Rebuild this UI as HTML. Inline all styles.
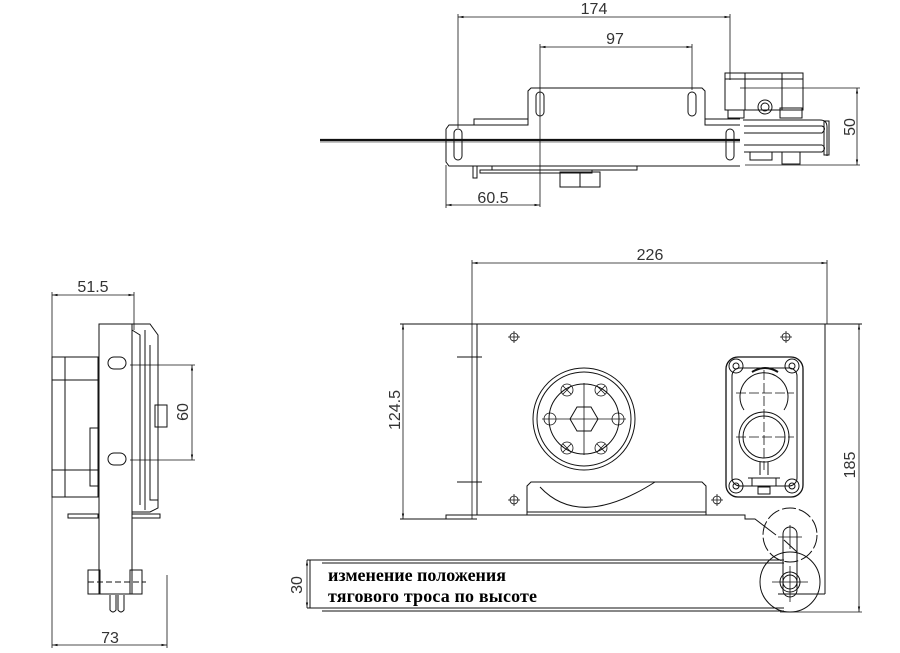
<!DOCTYPE html>
<html><head><meta charset="utf-8"><style>
html,body{margin:0;padding:0;background:#fff;width:900px;height:653px;overflow:hidden}
svg{display:block}
text{stroke:none}
.d{font-family:"Liberation Sans",sans-serif;font-size:16px;fill:#333}
.t{font-family:"Liberation Serif","DejaVu Serif",serif;font-size:18px;fill:#000}
</style></head><body>
<svg width="900" height="653" viewBox="0 0 900 653" fill="none" stroke="#111" stroke-width="1">
<defs>
<marker id="a" viewBox="0 0 10 10" refX="10" refY="5" markerWidth="7" markerHeight="7" orient="auto-start-reverse"><path d="M0,3 L10,5 L0,7" fill="#111" stroke="none"/></marker>
</defs>
<!-- TOP VIEW -->
<g stroke-width="0.8">
<line x1="458" y1="17" x2="730" y2="17" marker-start="url(#a)" marker-end="url(#a)"/>
<line x1="458" y1="14" x2="458" y2="128"/><line x1="730" y1="14" x2="730" y2="80"/>
<line x1="540" y1="47" x2="692" y2="47" marker-start="url(#a)" marker-end="url(#a)"/>
<line x1="540" y1="44" x2="540" y2="207"/><line x1="692" y1="44" x2="692" y2="90"/>
<line x1="446" y1="205" x2="540" y2="205" marker-start="url(#a)" marker-end="url(#a)"/>
<line x1="446" y1="165" x2="446" y2="208"/>
<line x1="857" y1="88" x2="857" y2="165" marker-start="url(#a)" marker-end="url(#a)"/>
<line x1="740" y1="88" x2="860" y2="88"/><line x1="745" y1="165" x2="860" y2="165"/>
</g>
<text class="d" x="594" y="14" text-anchor="middle">174</text>
<text class="d" x="615" y="44" text-anchor="middle">97</text>
<text class="d" x="493" y="203" text-anchor="middle">60.5</text>
<text class="d" transform="translate(855,127) rotate(-90)" text-anchor="middle">50</text>
<path d="M446,129 L449,125 L528,125 L528,91 L531,88 L702,88 L705,91 L705,125 L740,125 M446,129 L446,162 L449,166 L740,166"/>
<path d="M474,125 L474,119 L528,119 M705,119 L740,119"/>
<line x1="320" y1="140" x2="740" y2="140" stroke-width="2.2"/>
<line x1="320" y1="142" x2="740" y2="142" stroke-width="0.6"/>
<rect x="454" y="129" width="8" height="31" rx="4"/><rect x="726" y="129" width="8" height="31" rx="4"/>
<rect x="536" y="92" width="8" height="24" rx="4"/><rect x="688" y="92" width="8" height="24" rx="4"/>
<rect x="492" y="166" width="145" height="4"/><rect x="480" y="170" width="112" height="3"/>
<rect x="560" y="172" width="40" height="15"/><line x1="580" y1="172" x2="580" y2="187"/>
<rect x="473" y="166" width="4" height="12"/>
<rect x="725" y="73" width="78" height="37"/><line x1="725" y1="79" x2="803" y2="79"/>
<line x1="745" y1="73" x2="745" y2="110"/><line x1="782" y1="73" x2="782" y2="110"/>
<rect x="728" y="110" width="16" height="8"/><rect x="780" y="108" width="22" height="10"/>
<circle cx="765" cy="107" r="7"/><circle cx="765" cy="107" r="4"/>
<path d="M743,120 L820,120 Q827,120 827,127 L827,156"/>
<path d="M744,126 L822,126 Q827,128 822,133 L744,133 M744,145 L822,145 Q827,148 822,152 L744,152"/>
<rect x="824" y="121" width="5" height="34"/>
<rect x="750" y="152" width="22" height="8"/><rect x="782" y="152" width="18" height="12"/>
<!-- SIDE VIEW -->
<g stroke-width="0.8">
<line x1="52" y1="295" x2="134" y2="295" marker-start="url(#a)" marker-end="url(#a)"/>
<line x1="52" y1="292" x2="52" y2="648"/><line x1="134" y1="292" x2="134" y2="330"/>
<line x1="52" y1="645" x2="167" y2="645" marker-start="url(#a)" marker-end="url(#a)"/>
<line x1="167" y1="575" x2="167" y2="648"/>
<line x1="192" y1="365" x2="192" y2="460" marker-start="url(#a)" marker-end="url(#a)"/>
<line x1="130" y1="365" x2="195" y2="365"/><line x1="130" y1="460" x2="195" y2="460"/>
</g>
<text class="d" x="93" y="292" text-anchor="middle">51.5</text>
<text class="d" x="110" y="643" text-anchor="middle">73</text>
<text class="d" transform="translate(188,412) rotate(-90)" text-anchor="middle">60</text>
<rect x="99" y="324" width="33" height="270"/>
<path d="M132,324 L150,324 L158,335 L158,508 L150,512 L132,512"/>
<path d="M132,330 L140,335 L140,505 M145,330 L145,510 M150,345 L150,500 L158,500"/>
<rect x="155" y="405" width="12" height="22"/>
<rect x="52" y="357" width="46" height="140"/><line x1="65" y1="357" x2="65" y2="497"/>
<line x1="52" y1="380" x2="98" y2="380"/><line x1="52" y1="470" x2="98" y2="470"/>
<rect x="90" y="428" width="9" height="58"/>
<rect x="108" y="357" width="18" height="12" rx="6"/><rect x="108" y="453" width="18" height="12" rx="6"/>
<rect x="68" y="514" width="30" height="4"/><rect x="132" y="514" width="28" height="4"/>
<rect x="88" y="570" width="12" height="24"/><rect x="130" y="570" width="12" height="24"/>
<line x1="88" y1="582" x2="146" y2="582" stroke-dasharray="6,3"/>
<path d="M110,595 L110,610 Q113,614 116,610 L116,595 M118,595 L118,610 Q121,614 124,610 L124,595"/>
<!-- FRONT VIEW -->
<g stroke-width="0.8">
<line x1="472" y1="263" x2="827" y2="263" marker-start="url(#a)" marker-end="url(#a)"/>
<line x1="472" y1="260" x2="472" y2="519"/><line x1="827" y1="260" x2="827" y2="324"/>
<line x1="403" y1="324" x2="403" y2="519" marker-start="url(#a)" marker-end="url(#a)"/>
<line x1="859" y1="324" x2="859" y2="612" marker-start="url(#a)" marker-end="url(#a)"/>
<line x1="780" y1="612" x2="862" y2="612"/>
<line x1="307" y1="560" x2="307" y2="608" marker-start="url(#a)" marker-end="url(#a)"/>
</g>
<text class="d" x="650" y="260" text-anchor="middle">226</text>
<text class="d" transform="translate(400,410) rotate(-90)" text-anchor="middle">124.5</text>
<text class="d" transform="translate(855,465) rotate(-90)" text-anchor="middle">185</text>
<text class="d" transform="translate(302,585) rotate(-90)" text-anchor="middle">30</text>
<line x1="400" y1="324" x2="862" y2="324"/>
<line x1="400" y1="519" x2="477" y2="519"/>
<line x1="477" y1="324" x2="477" y2="515"/>
<line x1="825" y1="324" x2="825" y2="594"/><line x1="778" y1="594" x2="825" y2="594"/>
<path d="M446,519 L446,515 L745,515 L745,519 L755,519 L776,535"/>
<line x1="457" y1="357" x2="482" y2="357"/><line x1="457" y1="482" x2="482" y2="482"/>
<!-- disc -->
<circle cx="584" cy="419" r="51"/><circle cx="584" cy="419" r="47"/><circle cx="584" cy="419" r="35"/>
<polygon points="598,419 591,431 577,431 570,419 577,407 591,407"/>
<g stroke-width="0.8">
<line x1="542" y1="419" x2="626" y2="419"/><line x1="584" y1="383" x2="584" y2="455"/>
<circle cx="550" cy="419" r="6"/><circle cx="618" cy="419" r="6"/>
<circle cx="567" cy="390" r="6"/><circle cx="601" cy="390" r="6"/>
<circle cx="567" cy="448" r="6"/><circle cx="601" cy="448" r="6"/>
<path d="M563,386 l8,8 M571,386 l-8,8 M597,386 l8,8 M605,386 l-8,8 M563,444 l8,8 M571,444 l-8,8 M597,444 l8,8 M605,444 l-8,8"/>
</g>
<!-- hump -->
<path d="M527,515 L527,486 L531,482 L702,482 L706,486 L706,515 M540,487 Q580,530 655,482 M527,512 L706,512"/>
<!-- small holes -->
<g stroke-width="0.8">
<circle cx="514" cy="337" r="4"/><path d="M508,337 h12 M514,331 v12"/>
<circle cx="786" cy="337" r="4"/><path d="M780,337 h12 M786,331 v12"/>
<circle cx="514" cy="500" r="4"/><path d="M508,500 h12 M514,494 v12"/>
<circle cx="717" cy="500" r="4"/><path d="M711,500 h12 M717,494 v12"/>
</g>
<!-- bracket -->
<rect x="726" y="357" width="77" height="140" rx="12" stroke-width="1.3"/>
<rect x="732" y="368" width="65" height="118" rx="8"/>
<circle cx="736" cy="366" r="7"/><circle cx="736" cy="366" r="3"/>
<circle cx="792" cy="366" r="7"/><circle cx="792" cy="366" r="3"/>
<circle cx="736" cy="486" r="7"/><circle cx="736" cy="486" r="3"/>
<circle cx="792" cy="486" r="7"/><circle cx="792" cy="486" r="3"/>
<path d="M752,372 Q765,364 778,372" stroke-width="2"/>
<path d="M744,410 A24,24 0 1,1 784,410"/>
<circle cx="764" cy="437" r="25"/><circle cx="764" cy="437" r="21"/>
<g stroke-width="0.8"><line x1="736" y1="393" x2="794" y2="393" stroke-dasharray="10,3"/><line x1="736" y1="437" x2="794" y2="437" stroke-dasharray="10,3"/><line x1="764" y1="370" x2="764" y2="470" stroke-dasharray="10,3"/></g>
<path d="M760,462 L760,475 M768,462 L768,475 M748,478 L780,478 M752,478 L752,486 L776,486 L776,478"/>
<rect x="758" y="487" width="12" height="7"/>
<!-- pulley -->
<circle cx="790" cy="535" r="27" stroke-dasharray="14,3"/>
<circle cx="790" cy="582" r="30"/>
<rect x="783" y="527" width="14" height="70" rx="7"/>
<circle cx="790" cy="582" r="10"/><circle cx="790" cy="582" r="7"/>
<g stroke-width="0.8"><path d="M772,582 h36 M790,566 v36 M778,537 h24 M790,525 v24"/></g>
<line x1="784" y1="540" x2="797" y2="552"/>
<!-- text box -->
<line x1="307" y1="560" x2="784" y2="560"/><line x1="322" y1="563" x2="784" y2="563"/>
<line x1="307" y1="608" x2="784" y2="608"/><line x1="322" y1="611" x2="784" y2="611"/>
<line x1="310" y1="560" x2="310" y2="608"/>
<text class="t" x="328" y="581" textLength="178" style="font-weight:bold">изменение положения</text>
<text class="t" x="328" y="602" textLength="209" style="font-weight:bold">тягового троса по высоте</text>
</svg>
</body></html>
